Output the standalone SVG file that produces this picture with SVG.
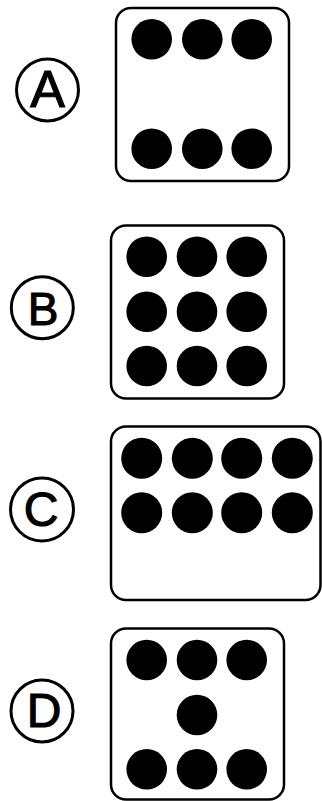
<svg xmlns="http://www.w3.org/2000/svg" width="322" height="801" viewBox="0 0 322 801">
<style>
.box{fill:#fff;stroke:#000;stroke-width:2.5}
.lc{fill:none;stroke:#000;stroke-width:3}
.lt{font-family:"Liberation Sans",Arial,sans-serif;font-weight:normal;text-anchor:middle;fill:#000;stroke:#000;stroke-width:1.1}
.dot{fill:#000}
</style>
<rect width="322" height="801" fill="#fff"/>
<g id="optA">
<circle class="lc" cx="47.5" cy="90" r="31"/>
<text class="lt" x="47.5" y="107" font-size="52">A</text>
<rect class="box" x="116" y="8" width="173" height="173" rx="15"/>
<circle class="dot" cx="151.7" cy="39.3" r="20.3"/><circle class="dot" cx="202.3" cy="39.3" r="20.3"/><circle class="dot" cx="251.7" cy="39.3" r="20.3"/>
<circle class="dot" cx="151.7" cy="148.7" r="20.3"/><circle class="dot" cx="202.3" cy="148.7" r="20.3"/><circle class="dot" cx="251.7" cy="148.7" r="20.3"/>
</g>
<g id="optB">
<circle class="lc" cx="42.3" cy="307.7" r="31"/>
<text class="lt" x="43" y="325" font-size="46">B</text>
<rect class="box" x="111" y="225.5" width="173" height="173" rx="15"/>
<circle class="dot" cx="146.7" cy="256.7" r="20.3"/><circle class="dot" cx="197" cy="256.7" r="20.3"/><circle class="dot" cx="246.7" cy="256.7" r="20.3"/>
<circle class="dot" cx="146.7" cy="311.7" r="20.3"/><circle class="dot" cx="197" cy="311.7" r="20.3"/><circle class="dot" cx="246.7" cy="311.7" r="20.3"/>
<circle class="dot" cx="146.7" cy="366" r="20.3"/><circle class="dot" cx="197" cy="366" r="20.3"/><circle class="dot" cx="246.7" cy="366" r="20.3"/>
</g>
<g id="optC">
<circle class="lc" cx="42" cy="509.5" r="31.5"/>
<text class="lt" x="41" y="526" font-size="48">C</text>
<rect class="box" x="111" y="426.5" width="209.5" height="173.5" rx="15"/>
<circle class="dot" cx="141.7" cy="458.3" r="20.5"/><circle class="dot" cx="192.3" cy="458.3" r="20.5"/><circle class="dot" cx="241.7" cy="458.3" r="20.5"/><circle class="dot" cx="292.3" cy="458.3" r="20.5"/>
<circle class="dot" cx="141.7" cy="512.7" r="20.5"/><circle class="dot" cx="192.3" cy="512.7" r="20.5"/><circle class="dot" cx="241.7" cy="512.7" r="20.5"/><circle class="dot" cx="292.3" cy="512.7" r="20.5"/>
</g>
<g id="optD">
<circle class="lc" cx="42" cy="711" r="31"/>
<text class="lt" x="44" y="727" font-size="48">D</text>
<rect class="box" x="111" y="628.5" width="173" height="171" rx="15"/>
<circle class="dot" cx="146.7" cy="660" r="20.3"/><circle class="dot" cx="197" cy="660" r="20.3"/><circle class="dot" cx="246.7" cy="660" r="20.3"/>
<circle class="dot" cx="197" cy="715" r="20.3"/>
<circle class="dot" cx="146.7" cy="769.3" r="20.3"/><circle class="dot" cx="197" cy="769.3" r="20.3"/><circle class="dot" cx="246.7" cy="769.3" r="20.3"/>
</g>
<g id="connectors"/>
</svg>
